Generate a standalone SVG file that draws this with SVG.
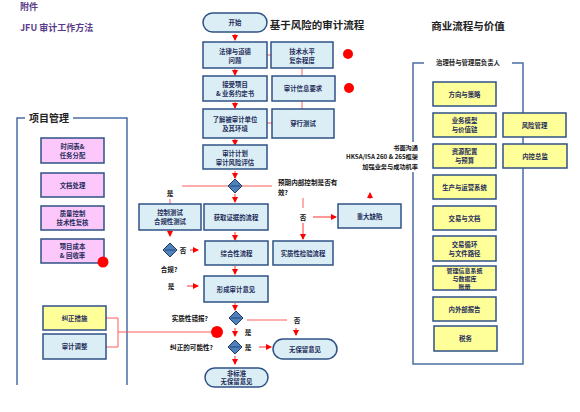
<svg xmlns="http://www.w3.org/2000/svg" width="580" height="412" viewBox="0 0 580 412">
<style>
text{font-family:"Noto Sans CJK SC","Liberation Sans",sans-serif;font-weight:bold;fill:#1f2d5a;text-anchor:middle;dominant-baseline:central}
.t{font-size:6.4px}
.l{font-size:6.6px;fill:#111}
.s{font-size:6.2px;fill:#111;text-anchor:end}
.bx{fill:#dbeef5;stroke:#2f5286;stroke-width:1.5}
.pk{fill:#fcc8fc;stroke:#2f5286;stroke-width:1.5}
.yl{fill:#ffff99;stroke:#2f5286;stroke-width:1.5}
.fr{fill:none;stroke:#4a6fa5;stroke-width:1.5}
.rl{stroke:#ff5a5a;stroke-width:1;fill:none}
.ra{stroke:#ff3030;stroke-width:1;fill:none;marker-end:url(#arr)}
.dm{fill:#4f81bd;stroke:#1f3864;stroke-width:1}
.dot{fill:#ff0000}
.h{font-size:10.5px;fill:#222}
.p{font-size:9px;fill:#5a3a8a;text-anchor:start}
</style>
<defs>
<marker id="arr" markerUnits="userSpaceOnUse" markerWidth="6" markerHeight="6" refX="5" refY="3" orient="auto">
<path d="M0,0 L6,3 L0,6 z" fill="#ff0000"/>
</marker>
</defs>

<text class="p" x="20" y="6">附件</text>
<text class="p" x="20" y="27">JFU 审计工作方法</text>
<text class="h" x="317" y="24">基于风险的审计流程</text>
<text class="h" x="468" y="25">商业流程与价值</text>

<g id="frames">
<path class="fr" d="M25,118 H17 V385 M73,118 H127 V385"/>
<text x="49" y="117" style="font-size:10px;fill:#222">项目管理</text>
<path class="fr" d="M424,63 H413 V142 M413,172 V364 H523 V63 H512"/>
<text x="468" y="62" style="font-size:6.4px;fill:#222">治理替与管理层负责人</text>
<text x="418" y="147" class="s">书面沟通</text>
<text x="418" y="156.5" class="s">HKSA/ISA 260 &amp; 265框架</text>
<text x="418" y="166" class="s">加强业务与成功机率</text>
</g>

<g id="connectors">
<line class="ra" x1="235" y1="34" x2="235" y2="40"/>
<line class="ra" x1="235" y1="69" x2="235" y2="75"/>
<line class="ra" x1="235" y1="102" x2="235" y2="108"/>
<line class="ra" x1="235" y1="139" x2="235" y2="145"/>
<line class="ra" x1="235" y1="171" x2="235" y2="178"/>
<line class="ra" x1="235" y1="194" x2="235" y2="202"/>
<line class="ra" x1="235" y1="232" x2="235" y2="240"/>
<line class="ra" x1="235" y1="266" x2="235" y2="274"/>
<line class="ra" x1="235" y1="303" x2="235" y2="310"/>
<line class="ra" x1="235" y1="328" x2="235" y2="336"/>
<line class="ra" x1="235" y1="356" x2="235" y2="364"/>
<line class="rl" x1="267" y1="55" x2="271" y2="55"/>
<line class="rl" x1="302" y1="68" x2="302" y2="76"/>
<line class="rl" x1="302" y1="101" x2="302" y2="109"/>
<line class="rl" x1="267" y1="123" x2="272" y2="123"/>
<line class="rl" x1="182" y1="186" x2="228" y2="186"/>
<line class="rl" x1="242" y1="186" x2="272" y2="186"/>
<line class="rl" x1="170" y1="199" x2="170" y2="204"/>
<line class="ra" x1="170" y1="230" x2="170" y2="236"/>
<line class="ra" x1="190" y1="250" x2="198" y2="250"/>
<line class="rl" x1="303" y1="198" x2="303" y2="208"/>
<line class="ra" x1="303" y1="223" x2="303" y2="239"/>
<line class="ra" x1="313" y1="217" x2="336" y2="217"/>
<line class="ra" x1="370" y1="199" x2="370" y2="193"/>
<line class="ra" x1="187" y1="286" x2="198" y2="286"/>
<line class="rl" x1="247" y1="320" x2="287" y2="320"/>
<line class="ra" x1="296" y1="328" x2="296" y2="335"/>
<path class="rl" d="M106,318 H118 V347 H106 M118,332 H211"/>
<line class="ra" x1="259" y1="347" x2="271" y2="347"/>
</g>

<g id="start"><rect class="bx" x="203" y="13" width="64" height="19" rx="9.5"/><text class="t" x="235" y="22.5">开始</text></g>
<g id="n-law"><rect class="bx" x="203" y="42" width="64" height="26"/><text class="t" x="235" y="51">法律与道德</text><text class="t" x="235" y="60">问题</text></g>
<g id="n-tech"><rect class="bx" x="271" y="42" width="62" height="26"/><text class="t" x="302" y="51">技术水平</text><text class="t" x="302" y="60">复杂程度</text></g>
<g id="n-accept"><rect class="bx" x="203" y="76" width="64" height="25"/><text class="t" x="235" y="84.5">接受项目</text><text class="t" x="235" y="93.5">&amp; 业务约定书</text></g>
<g id="n-info"><rect class="bx" x="272" y="76" width="63" height="25"/><text class="t" x="303" y="88.5">审计信息要求</text></g>
<g id="n-understand"><rect class="bx" x="203" y="109" width="64" height="29"/><text class="t" x="235" y="119">了解被审计单位</text><text class="t" x="235" y="128">及其环境</text></g>
<g id="n-walk"><rect class="bx" x="272" y="109" width="62" height="29"/><text class="t" x="303" y="123.5">穿行测试</text></g>
<g id="n-plan"><rect class="bx" x="203" y="145" width="64" height="24"/><text class="t" x="235" y="153">审计计划</text><text class="t" x="235" y="162">审计风险评估</text></g>
<g id="d1"><polygon class="dm" points="235,179 242,186 235,193 228,186"/><line x1="230" y1="186" x2="240" y2="186" stroke="#1f3864" stroke-width="0.8"/></g>
<text class="l" x="278" y="182" style="text-anchor:start">预期内部控制是否有</text>
<text class="l" x="278" y="192" style="text-anchor:start">效?</text>
<text class="l" x="170" y="193">是</text>
<g id="n-control"><rect class="bx" x="139" y="204" width="62" height="26"/><text class="t" x="170" y="212.5">控制测试</text><text class="t" x="170" y="221.5">合规性测试</text></g>
<g id="n-evidence"><rect class="bx" x="204" y="204" width="64" height="26"/><text class="t" x="236" y="217">获取证据的流程</text></g>
<text class="l" x="303" y="217">否</text>
<g id="n-defect"><rect class="bx" x="338" y="204" width="63" height="24"/><text class="t" x="369.5" y="216">重大缺陷</text></g>
<g id="d2"><polygon class="dm" points="170,243 177,250 170,257 163,250"/><line x1="165" y1="250" x2="175" y2="250" stroke="#1f3864" stroke-width="0.8"/></g>
<text class="l" x="183" y="250">否</text>
<text class="l" x="169" y="269">合规?</text>
<g id="n-comp"><rect class="bx" x="205" y="241" width="63" height="24"/><text class="t" x="236.5" y="253">综合性流程</text></g>
<g id="n-subst"><rect class="bx" x="273" y="241" width="60" height="24"/><text class="t" x="303" y="253">实质性检验流程</text></g>
<text class="l" x="171" y="286">是</text>
<g id="n-opinion"><rect class="bx" x="204" y="276" width="64" height="26"/><text class="t" x="236" y="289">形成审计意见</text></g>
<text class="l" x="208" y="318" style="text-anchor:end">实质性错报?</text>
<g id="d3"><polygon class="dm" points="236,311 243,318 236,325 229,318"/><line x1="231" y1="318" x2="241" y2="318" stroke="#1f3864" stroke-width="0.8"/></g>
<text class="l" x="297" y="320">否</text>
<circle class="dot" cx="217" cy="332" r="6"/>
<text class="l" x="248" y="332">是</text>
<text class="l" x="213" y="347" style="text-anchor:end">纠正的可能性?</text>
<g id="d4"><polygon class="dm" points="235,340 242,347 235,354 228,347"/><line x1="230" y1="347" x2="240" y2="347" stroke="#1f3864" stroke-width="0.8"/></g>
<text class="l" x="248" y="347">是</text>
<g id="n-unqual"><rect class="bx" x="273" y="339" width="64" height="20" rx="10"/><text class="t" x="305" y="349">无保留意见</text></g>
<g id="n-nonstd"><rect class="bx" x="205" y="368" width="63" height="19" rx="9.5"/><text class="t" x="236.5" y="373.5">非标准</text><text class="t" x="236.5" y="381.5">无保留意见</text></g>

<circle class="dot" cx="348" cy="54" r="5"/>
<circle class="dot" cx="349" cy="88" r="5"/>

<g id="p1"><rect class="pk" x="41" y="138" width="63" height="25"/><text class="t" x="72.5" y="146.5">时间表&amp;</text><text class="t" x="72.5" y="155.5">任务分配</text></g>
<g id="p2"><rect class="pk" x="41" y="173" width="63" height="24"/><text class="t" x="72.5" y="185">文档处理</text></g>
<g id="p3"><rect class="pk" x="41" y="206" width="63" height="24"/><text class="t" x="72.5" y="213.5">质量控制</text><text class="t" x="72.5" y="222.5">技术性复核</text></g>
<g id="p4"><rect class="pk" x="41" y="239" width="63" height="24"/><text class="t" x="72.5" y="246.5">项目成本</text><text class="t" x="72.5" y="255.5">&amp; 回收率</text></g>
<circle class="dot" cx="103" cy="262" r="5.5"/>
<g id="p5"><rect class="yl" x="43" y="306" width="63" height="24"/><text class="t" x="74.5" y="318">纠正措施</text></g>
<g id="p6"><rect class="bx" x="43" y="334" width="63" height="25"/><text class="t" x="74.5" y="346.5">审计调整</text></g>

<g id="b1"><rect class="yl" x="433" y="82" width="63" height="24"/><text class="t" x="464.5" y="94">方向与策略</text></g>
<g id="b2"><rect class="yl" x="433" y="113" width="63" height="24"/><text class="t" x="464.5" y="120.5">业务模型</text><text class="t" x="464.5" y="129.5">与价值链</text></g>
<g id="b3"><rect class="yl" x="433" y="144" width="63" height="24"/><text class="t" x="464.5" y="151.5">资源配置</text><text class="t" x="464.5" y="160.5">与预算</text></g>
<g id="b4"><rect class="yl" x="433" y="175" width="63" height="24"/><text class="t" x="464.5" y="187">生产与运营系统</text></g>
<g id="b5"><rect class="yl" x="433" y="206" width="63" height="24"/><text class="t" x="464.5" y="218">交易与文档</text></g>
<g id="b6"><rect class="yl" x="433" y="236" width="63" height="25"/><text class="t" x="464.5" y="244">交易循环</text><text class="t" x="464.5" y="253">与文件路径</text></g>
<g id="b7"><rect class="yl" x="433" y="266" width="63" height="24"/><text class="t" x="464.5" y="270" style="font-size:6px">管理信息系统</text><text class="t" x="464.5" y="278" style="font-size:6px">与数据库</text><text class="t" x="464.5" y="286" style="font-size:6px">账册</text></g>
<g id="b8"><rect class="yl" x="433" y="297" width="63" height="24"/><text class="t" x="464.5" y="309">内外部报告</text></g>
<g id="b9"><rect class="yl" x="434" y="326" width="63" height="25"/><text class="t" x="465.5" y="338.5">税务</text></g>
<g id="b10"><rect class="yl" x="503" y="113" width="63" height="24"/><text class="t" x="534.5" y="125">风险管理</text></g>
<g id="b11"><rect class="yl" x="503" y="144" width="64" height="24"/><text class="t" x="535" y="156">内控总监</text></g>
</svg>
